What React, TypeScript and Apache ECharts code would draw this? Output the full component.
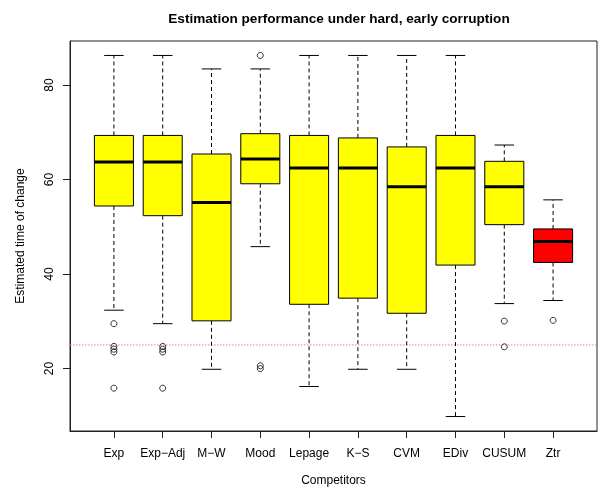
import React, { useEffect, useRef } from 'react';
import * as echarts from 'echarts';

const categories = ['Exp', 'Exp\u2212Adj', 'M\u2212W', 'Mood', 'Lepage', 'K\u2212S', 'CVM', 'EDiv', 'CUSUM', 'Ztr'];
const lowerWhisker = [32.35, 29.5, 19.85, 45.8, 16.2, 19.85, 19.85, 9.85, 33.75, 34.4];
const q1 = [54.4, 52.35, 30.1, 59.1, 33.6, 34.9, 31.7, 41.9, 50.45, 42.45];
const median = [63.7, 63.7, 55.15, 64.35, 62.45, 62.45, 58.45, 62.45, 58.45, 46.9];
const q3 = [69.33, 69.33, 65.4, 69.7, 69.33, 68.8, 66.9, 69.33, 63.85, 49.55];
const upperWhisker = [86.25, 86.25, 83.4, 83.4, 86.25, 86.25, 86.25, 86.25, 67.3, 55.7];
const boxColors = ['#ffff00', '#ffff00', '#ffff00', '#ffff00', '#ffff00', '#ffff00', '#ffff00', '#ffff00', '#ffff00', '#ff0000'];

// outliers: position (1-based category index) and value
const outlierPos = [1, 1, 1, 1, 1, 2, 2, 2, 2, 4, 4, 4, 9, 9, 10];
const outlierValues = [29.5, 24.7, 24.1, 23.5, 15.85, 24.7, 24.1, 23.5, 15.85, 86.25, 20.6, 20.0, 30.05, 24.6, 30.2];

const referenceLine = 25;
const yTicks = [20, 40, 60, 80];
const xTicks = [1, 2, 3, 4, 5, 6, 7, 8, 9, 10];
const xMin = 0.1;
const xMax = 10.9;

const FONT = 'Liberation Sans, Arial, Helvetica, sans-serif';

export default function App() {
  const ref = useRef<HTMLDivElement>(null);
  useEffect(() => {
    document.body.style.margin = '0';
    const chart = echarts.init(ref.current!, null, { renderer: 'svg' });
    const boxData = categories.map((_, i) => [i + 1, lowerWhisker[i], q1[i], median[i], q3[i], upperWhisker[i]]);
    const outlierData = outlierPos.map((p, i) => [p, outlierValues[i]]);
    chart.setOption({
      animation: false,
      title: {
        text: 'Estimation performance under hard, early corruption',
        left: 334,
        top: 6,
        textAlign: 'center',
        textStyle: { fontSize: 13.6, fontWeight: 'bold', color: '#000', fontFamily: FONT },
      },
      grid: {
        left: 70, right: 2, top: 41, bottom: 58,
        show: true, borderColor: '#222', borderWidth: 1, backgroundColor: 'transparent',
      },
      xAxis: {
        type: 'value',
        min: xMin,
        max: xMax,
        name: 'Competitors',
        nameLocation: 'middle',
        nameGap: 43,
        nameTextStyle: { fontSize: 12, color: '#000', fontFamily: FONT },
        splitLine: { show: false },
        axisLine: { show: true, lineStyle: { color: '#222' } },
        axisTick: { show: true, customValues: xTicks, length: 7, lineStyle: { color: '#222' } },
        axisLabel: {
          customValues: xTicks,
          formatter: (v: number) => categories[Math.round(v) - 1] ?? '',
          margin: 16,
          fontSize: 12,
          color: '#000',
          fontFamily: FONT,
        },
      },
      yAxis: {
        type: 'value',
        min: 6.79,
        max: 89.31,
        name: 'Estimated time of change',
        nameLocation: 'middle',
        nameGap: 44,
        nameTextStyle: { fontSize: 12, color: '#000', fontFamily: FONT },
        splitLine: { show: false },
        axisLine: { show: true, lineStyle: { color: '#222' } },
        axisTick: { show: true, customValues: yTicks, length: 7, lineStyle: { color: '#222' } },
        axisLabel: {
          customValues: yTicks,
          rotate: 90,
          margin: 15,
          fontSize: 12,
          color: '#000',
          fontFamily: FONT,
        },
      },
      series: [
        {
          type: 'line',
          data: [[xMin, referenceLine], [xMax, referenceLine]],
          showSymbol: false,
          silent: true,
          z: 1,
          lineStyle: { type: [1.5, 1.5], color: '#ff7a7a', width: 1 },
        },
        {
          type: 'custom',
          data: boxData,
          silent: true,
          z: 2,
          renderItem: (params: any, api: any) => {
            const x = api.value(0);
            const lo = api.coord([x, api.value(1)]);
            const b1 = api.coord([x, api.value(2)]);
            const md = api.coord([x, api.value(3)]);
            const b3 = api.coord([x, api.value(4)]);
            const hi = api.coord([x, api.value(5)]);
            const w = api.size([0.8, 0])[0];
            const cw = w / 2;
            const cx = lo[0];
            const fill = boxColors[params.dataIndex];
            const dash = { stroke: '#000', lineWidth: 1, lineDash: [4, 3] };
            const solid = { stroke: '#000', lineWidth: 1 };
            return {
              type: 'group',
              children: [
                { type: 'line', shape: { x1: cx, y1: b3[1], x2: cx, y2: hi[1] }, style: dash },
                { type: 'line', shape: { x1: cx, y1: b1[1], x2: cx, y2: lo[1] }, style: dash },
                { type: 'line', shape: { x1: cx - cw / 2, y1: hi[1], x2: cx + cw / 2, y2: hi[1] }, style: solid },
                { type: 'line', shape: { x1: cx - cw / 2, y1: lo[1], x2: cx + cw / 2, y2: lo[1] }, style: solid },
                {
                  type: 'rect',
                  shape: { x: cx - w / 2, y: b3[1], width: w, height: b1[1] - b3[1] },
                  style: { fill, stroke: '#000', lineWidth: 1 },
                },
                {
                  type: 'line',
                  shape: { x1: cx - w / 2, y1: md[1], x2: cx + w / 2, y2: md[1] },
                  style: { stroke: '#000', lineWidth: 3 },
                },
              ],
            };
          },
        },
        {
          type: 'scatter',
          data: outlierData,
          symbol: 'circle',
          symbolSize: 6,
          silent: true,
          z: 3,
          itemStyle: { color: 'transparent', borderColor: '#000', borderWidth: 1 },
        },
      ],
    });
    return () => chart.dispose();
  }, []);
  return <div ref={ref} style={{ position: 'fixed', left: 0, top: 0, width: 599, height: 491 }} />;
}
